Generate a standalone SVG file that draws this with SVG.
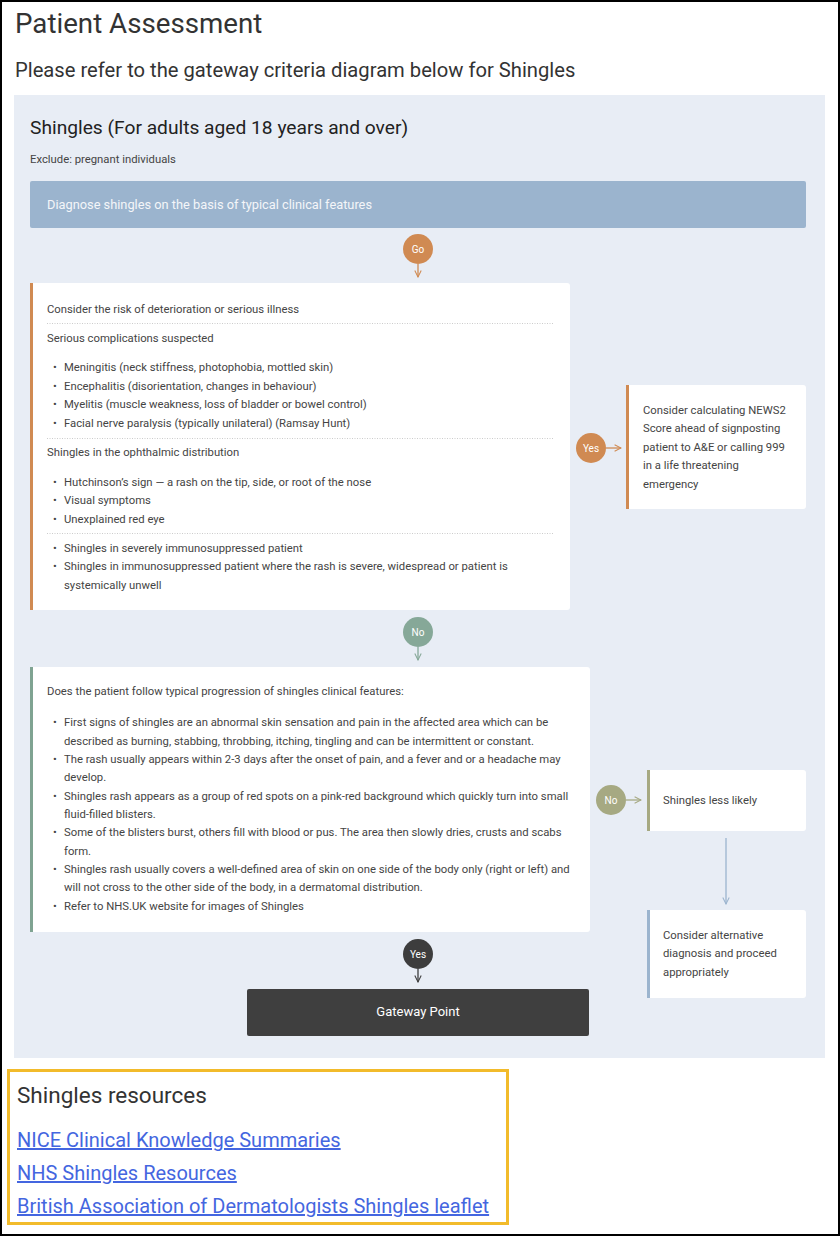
<svg xmlns="http://www.w3.org/2000/svg" width="840" height="1236" viewBox="0 0 840 1236">
<defs>
<style>
text{font-family:Roboto,"Liberation Sans",sans-serif;}
.h1{font-size:27.7px;fill:#333;}
.h2{font-size:20.2px;fill:#333;}
.t{font-size:11.3px;fill:#444;}
.tw{font-size:12.8px;fill:#f4f6f9;}
.c{font-size:10px;fill:#fff;text-anchor:middle;}
.box{fill:#fff;}
.sep{stroke:#ccc;stroke-width:1;stroke-dasharray:1 1.5;}
.link{font-size:20px;fill:#4466e0;text-decoration:underline;}
</style>
<marker id="aO" viewBox="0 0 10 10" refX="9" refY="5" markerWidth="8" markerHeight="8" orient="auto" markerUnits="userSpaceOnUse"><path d="M1,1 L9,5 L1,9" fill="none" stroke="#d08a52" stroke-width="1.3"/></marker>
<marker id="aG" viewBox="0 0 10 10" refX="9" refY="5" markerWidth="8" markerHeight="8" orient="auto" markerUnits="userSpaceOnUse"><path d="M1,1 L9,5 L1,9" fill="none" stroke="#86a898" stroke-width="1.3"/></marker>
<marker id="aL" viewBox="0 0 10 10" refX="9" refY="5" markerWidth="8" markerHeight="8" orient="auto" markerUnits="userSpaceOnUse"><path d="M1,1 L9,5 L1,9" fill="none" stroke="#a6a982" stroke-width="1.3"/></marker>
<marker id="aB" viewBox="0 0 10 10" refX="9" refY="5" markerWidth="8" markerHeight="8" orient="auto" markerUnits="userSpaceOnUse"><path d="M1,1 L9,5 L1,9" fill="none" stroke="#9bb4ce" stroke-width="1.3"/></marker>
<marker id="aD" viewBox="0 0 10 10" refX="9" refY="5" markerWidth="8" markerHeight="8" orient="auto" markerUnits="userSpaceOnUse"><path d="M1,1 L9,5 L1,9" fill="none" stroke="#3d3d3d" stroke-width="1.3"/></marker>
</defs>
<rect x="1" y="1" width="838" height="1234" fill="#fff" stroke="#000" stroke-width="2"/>
<text class="h1" x="15" y="33">Patient Assessment</text>
<text class="h2" x="15" y="77">Please refer to the gateway criteria diagram below for Shingles</text>
<rect x="14" y="95" width="811" height="963" fill="#e8edf5"/>
<text x="30" y="134" style="font-size:19.2px;fill:#222">Shingles (For adults aged 18 years and over)</text>
<text class="t" x="30" y="163">Exclude: pregnant individuals</text>

<g id="connectors">
<line x1="418" y1="264" x2="418" y2="277" stroke="#d08a52" stroke-width="1.3" marker-end="url(#aO)"/>
<line x1="606" y1="448" x2="621" y2="448" stroke="#d08a52" stroke-width="1.3" marker-end="url(#aO)"/>
<line x1="418" y1="647" x2="418" y2="660" stroke="#86a898" stroke-width="1.3" marker-end="url(#aG)"/>
<line x1="626" y1="800" x2="641" y2="800" stroke="#a6a982" stroke-width="1.3" marker-end="url(#aL)"/>
<line x1="726" y1="838" x2="726" y2="904" stroke="#9bb4ce" stroke-width="1.3" marker-end="url(#aB)"/>
<line x1="418" y1="969" x2="418" y2="982" stroke="#3d3d3d" stroke-width="1.3" marker-end="url(#aD)"/>
<circle cx="418" cy="249" r="15" fill="#d08a52"/><text class="c" x="418" y="253">Go</text>
<circle cx="591" cy="448" r="15" fill="#d08a52"/><text class="c" x="591" y="452">Yes</text>
<circle cx="418" cy="632" r="15" fill="#86a898"/><text class="c" x="418" y="636">No</text>
<circle cx="611" cy="800" r="15" fill="#a6a982"/><text class="c" x="611" y="804">No</text>
<circle cx="418" cy="954" r="15" fill="#3d3d3d"/><text class="c" x="418" y="958">Yes</text>
</g>

<g id="diagnose">
<rect x="30" y="181" width="776" height="47" rx="2" fill="#9bb4ce"/>
<text class="tw" x="47" y="209">Diagnose shingles on the basis of typical clinical features</text>
</g>

<g id="risk">
<rect class="box" x="30" y="283" width="540" height="327" rx="3"/>
<rect x="30" y="283" width="3" height="327" fill="#d08a52"/>
<text class="t" x="47" y="313">Consider the risk of deterioration or serious illness</text>
<line class="sep" x1="47" y1="323.5" x2="553" y2="323.5"/>
<text class="t" x="47" y="342">Serious complications suspected</text>
<text class="t" x="53" y="371">•</text><text class="t" x="64" y="371">Meningitis (neck stiffness, photophobia, mottled skin)</text>
<text class="t" x="53" y="390">•</text><text class="t" x="64" y="390">Encephalitis (disorientation, changes in behaviour)</text>
<text class="t" x="53" y="408">•</text><text class="t" x="64" y="408">Myelitis (muscle weakness, loss of bladder or bowel control)</text>
<text class="t" x="53" y="427">•</text><text class="t" x="64" y="427">Facial nerve paralysis (typically unilateral) (Ramsay Hunt)</text>
<line class="sep" x1="47" y1="438.5" x2="553" y2="438.5"/>
<text class="t" x="47" y="456">Shingles in the ophthalmic distribution</text>
<text class="t" x="53" y="486">•</text><text class="t" x="64" y="486">Hutchinson’s sign — a rash on the tip, side, or root of the nose</text>
<text class="t" x="53" y="504">•</text><text class="t" x="64" y="504">Visual symptoms</text>
<text class="t" x="53" y="523">•</text><text class="t" x="64" y="523">Unexplained red eye</text>
<line class="sep" x1="47" y1="533.5" x2="553" y2="533.5"/>
<text class="t" x="53" y="552">•</text><text class="t" x="64" y="552">Shingles in severely immunosuppressed patient</text>
<text class="t" x="53" y="570">•</text><text class="t" x="64" y="570">Shingles in immunosuppressed patient where the rash is severe, widespread or patient is</text>
<text class="t" x="64" y="589">systemically unwell</text>
</g>

<g id="news2">
<rect class="box" x="626" y="385" width="180" height="124" rx="3"/>
<rect x="626" y="385" width="3" height="124" fill="#d08a52"/>
<text class="t" x="643" y="414">Consider calculating NEWS2</text>
<text class="t" x="643" y="432">Score ahead of signposting</text>
<text class="t" x="643" y="451">patient to A&amp;E or calling 999</text>
<text class="t" x="643" y="469">in a life threatening</text>
<text class="t" x="643" y="488">emergency</text>
</g>

<g id="progression">
<rect class="box" x="30" y="667" width="560" height="265" rx="3"/>
<rect x="30" y="667" width="3" height="265" fill="#7fa392"/>
<text class="t" x="47" y="695">Does the patient follow typical progression of shingles clinical features:</text>
<text class="t" x="53" y="726">•</text><text class="t" x="64" y="726">First signs of shingles are an abnormal skin sensation and pain in the affected area which can be</text>
<text class="t" x="64" y="745">described as burning, stabbing, throbbing, itching, tingling and can be intermittent or constant.</text>
<text class="t" x="53" y="763">•</text><text class="t" x="64" y="763">The rash usually appears within 2-3 days after the onset of pain, and a fever and or a headache may</text>
<text class="t" x="64" y="781">develop.</text>
<text class="t" x="53" y="800">•</text><text class="t" x="64" y="800">Shingles rash appears as a group of red spots on a pink-red background which quickly turn into small</text>
<text class="t" x="64" y="818">fluid-filled blisters.</text>
<text class="t" x="53" y="836">•</text><text class="t" x="64" y="836">Some of the blisters burst, others fill with blood or pus. The area then slowly dries, crusts and scabs</text>
<text class="t" x="64" y="855">form.</text>
<text class="t" x="53" y="873">•</text><text class="t" x="64" y="873">Shingles rash usually covers a well-defined area of skin on one side of the body only (right or left) and</text>
<text class="t" x="64" y="891">will not cross to the other side of the body, in a dermatomal distribution.</text>
<text class="t" x="53" y="910">•</text><text class="t" x="64" y="910">Refer to NHS.UK website for images of Shingles</text>
</g>

<g id="less-likely">
<rect class="box" x="647" y="770" width="159" height="61" rx="3"/>
<rect x="647" y="770" width="3" height="61" fill="#a6a982"/>
<text class="t" x="663" y="804">Shingles less likely</text>
</g>

<g id="alternative">
<rect class="box" x="647" y="910" width="159" height="88" rx="3"/>
<rect x="647" y="910" width="3" height="88" fill="#9bb4ce"/>
<text class="t" x="663" y="939">Consider alternative</text>
<text class="t" x="663" y="957">diagnosis and proceed</text>
<text class="t" x="663" y="976">appropriately</text>
</g>

<g id="gateway">
<rect x="247" y="989" width="342" height="47" rx="2" fill="#3f3f3f"/>
<text x="418" y="1016" style="font-size:13px;fill:#fff;text-anchor:middle">Gateway Point</text>
</g>

<g id="resources">
<rect x="8.5" y="1070.5" width="499" height="153" fill="none" stroke="#f2bb2b" stroke-width="3"/>
<text x="17" y="1103" style="font-size:22.5px;fill:#333">Shingles resources</text>
<text class="link" x="17" y="1147">NICE Clinical Knowledge Summaries</text>
<text class="link" x="17" y="1180">NHS Shingles Resources</text>
<text class="link" x="17" y="1213">British Association of Dermatologists Shingles leaflet</text>
</g>
</svg>
